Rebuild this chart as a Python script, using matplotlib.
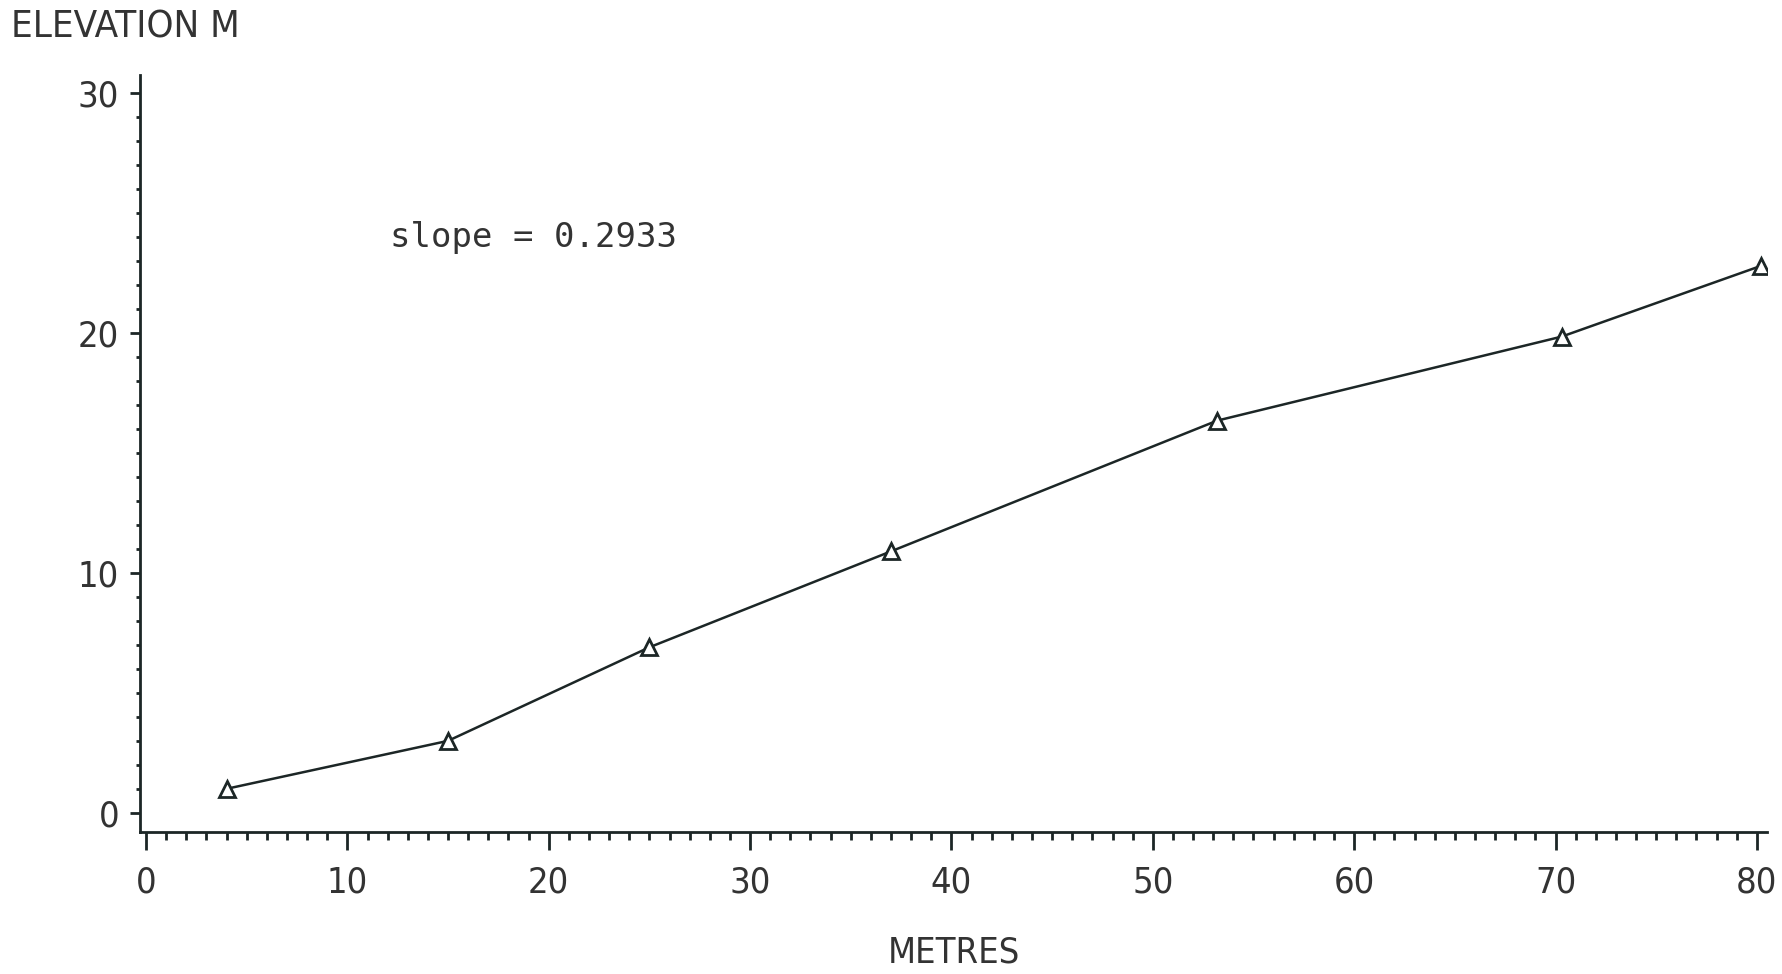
import matplotlib.pyplot as plt
from matplotlib.ticker import MultipleLocator

# Elevation profile data
distance = [4, 15, 25, 37, 53.2, 70.3, 80.2]
elevation = [1.0, 3.0, 6.9, 10.9, 16.35, 19.85, 22.8]
slope_text = "slope = 0.2933"

x_ticks = [0, 10, 20, 30, 40, 50, 60, 70, 80]
y_ticks = [0, 10, 20, 30]

ink = '#1c2626'
txt = '#333333'
font = ['DejaVu Sans']

fig = plt.figure(figsize=(17.83, 9.74), dpi=100)
ax = fig.add_axes([0.0785, 0.1458, 0.9125, 0.777])

ax.plot(distance, elevation, color=ink, lw=1.8, marker='^', markersize=11,
        markerfacecolor='white', markeredgecolor=ink, markeredgewidth=2)

ax.set_xlim(-0.3, 80.5)
ax.set_ylim(-0.8, 30.75)
ax.set_xticks(x_ticks)
ax.set_yticks(y_ticks)
ax.xaxis.set_minor_locator(MultipleLocator(1))
ax.yaxis.set_minor_locator(MultipleLocator(1))

for s in ['top', 'right']:
    ax.spines[s].set_visible(False)
for s in ['left', 'bottom']:
    ax.spines[s].set_color(ink)
    ax.spines[s].set_linewidth(2)

ax.tick_params(axis='x', which='major', direction='out', length=13, width=2,
               color=ink, pad=11)
ax.tick_params(axis='x', which='minor', direction='out', length=6, width=2, color=ink)
ax.tick_params(axis='y', which='major', direction='out', length=7, width=2,
               color=ink, pad=8)
ax.tick_params(axis='y', which='minor', direction='out', length=3, width=2, color=ink)

for lab in ax.get_xticklabels() + ax.get_yticklabels():
    lab.set_family(font)
    lab.set_stretch('condensed')
    lab.set_fontsize(26)
    lab.set_color(txt)

ax.set_xlabel('METRES', family=font, stretch='condensed', fontsize=26,
              color=txt, labelpad=26)

fig.text(0.006, 0.972, 'ELEVATION M', family=font, stretch='condensed',
         fontsize=27.5, color=txt, ha='left', va='center')
ax.text(12.1, 24.0, slope_text, family='DejaVu Sans Mono', fontsize=24.5,
        color=txt, ha='left', va='center')

fig.savefig('out.png', dpi=100, facecolor='white')
